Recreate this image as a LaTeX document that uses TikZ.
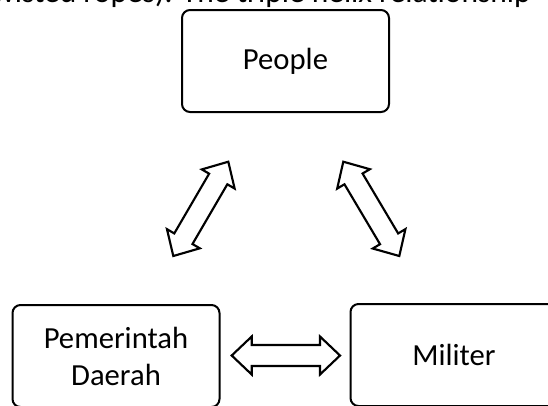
\documentclass[tikz,border=0pt]{standalone}
\usepackage{fontspec}
\setmainfont{Carlito}
\usetikzlibrary{calc}
\tikzset{
  box/.style={draw, line width=1.5pt, rounded corners=6pt, minimum width=155.25pt, minimum height=76.5pt, align=center, inner sep=0pt, font=\fontsize{23}{27.75}\selectfont},
  barrow/.style={draw, line width=1.6pt, line join=miter, miter limit=10},
  lbl/.style={inner sep=0pt, font=\fontsize{23.6}{28}\selectfont}
}
\def\ah{15pt}
\def\aw{14.25pt}
\def\as{7.9pt}
\newcommand\blockarrow[2]{%
  \draw[barrow] (#1)
    -- ($(#1)!\ah!(#2)!\aw!90:(#2)$)
    -- ($(#1)!\ah!(#2)!\as!90:(#2)$)
    -- ($(#2)!\ah!(#1)!\as!-90:(#1)$)
    -- ($(#2)!\ah!(#1)!\aw!-90:(#1)$)
    -- (#2)
    -- ($(#2)!\ah!(#1)!\aw!90:(#1)$)
    -- ($(#2)!\ah!(#1)!\as!90:(#1)$)
    -- ($(#1)!\ah!(#2)!\as!-90:(#2)$)
    -- ($(#1)!\ah!(#2)!\aw!-90:(#2)$)
    -- cycle;}
\begin{document}
\begin{tikzpicture}[x=0.75pt, y=-0.75pt]
  \useasboundingbox (0,0) rectangle (548,405);
  \clip (0,0) rectangle (548,405);
  \node[lbl, anchor=base east] (top) at (531,2) {twisted ropes). The triple helix relationship};
  \node[box] (people) at (285.5,61) {People};
  \node[box] (pemda) at (116,356) {Pemerintah\\Daerah};
  \node[box] (militer) at (454,355) {Militer};
  \coordinate (l1) at (228.3,161.7);
  \coordinate (l2) at (173.3,256);
  \coordinate (r1) at (343.3,161.7);
  \coordinate (r2) at (399.3,256);
  \coordinate (h1) at (231.7,355.5);
  \coordinate (h2) at (340,355.5);
  \blockarrow{l1}{l2}
  \blockarrow{r1}{r2}
  \blockarrow{h1}{h2}
\end{tikzpicture}
\end{document}
